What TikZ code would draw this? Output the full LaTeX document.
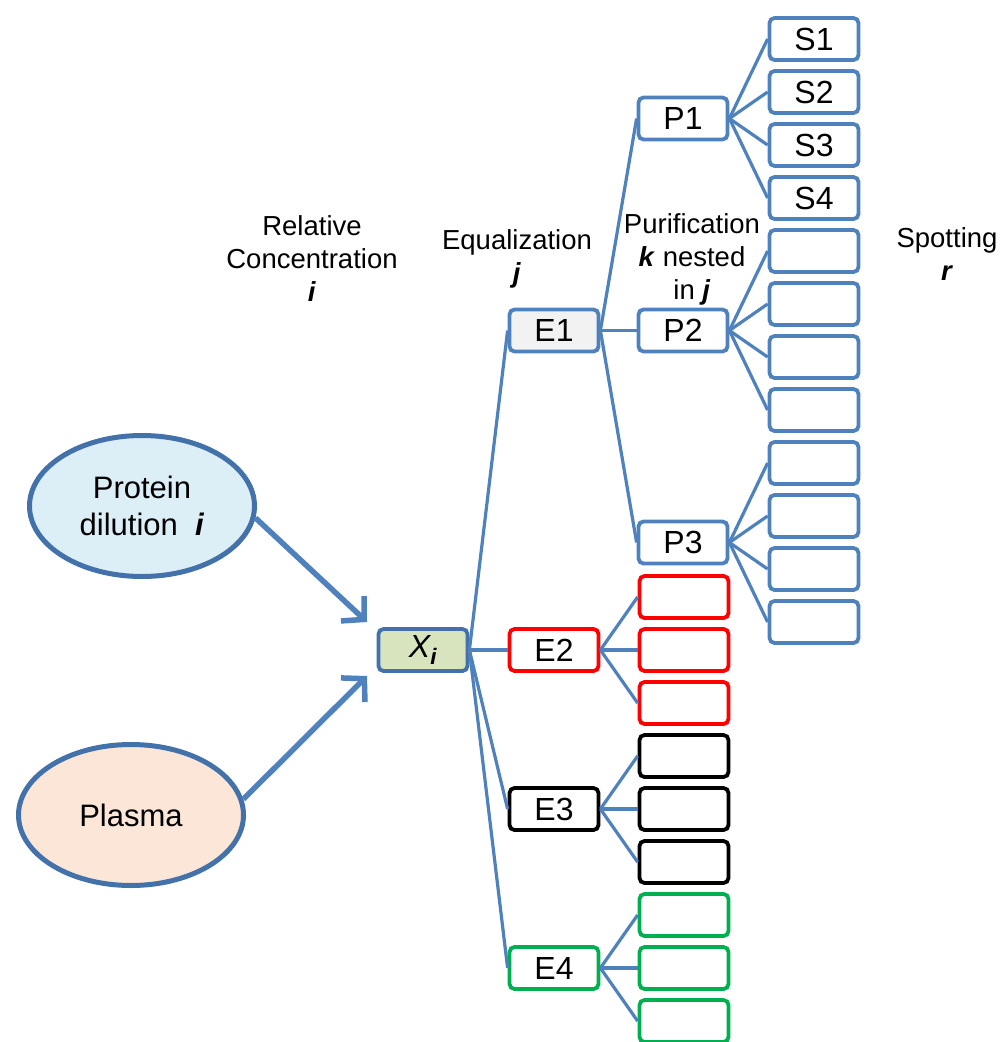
\documentclass[tikz,border=0pt]{standalone}
\usepackage{fontspec}
\setmainfont{Liberation Sans}
\usetikzlibrary{shapes.geometric,arrows.meta}

\definecolor{boxblue}{HTML}{4F81BD}
\definecolor{rimblue}{HTML}{4372AA}
\definecolor{eqgray}{HTML}{F2F2F2}
\definecolor{xgreen}{HTML}{D7E4BD}
\definecolor{protblue}{HTML}{DCEEF6}
\definecolor{plasmapeach}{HTML}{FCE6D8}
\definecolor{spotgreen}{HTML}{00B050}

\begin{document}
\begin{tikzpicture}[x=1pt, y=-1pt,
		box/.style={draw=boxblue, line width=3.8pt, rounded corners=5pt, minimum width=89pt, minimum height=42pt, inner sep=0pt, font=\fontsize{32}{38}\selectfont},
		link/.style={draw=boxblue, line width=3.2pt},
		blob/.style={ellipse, draw=rimblue, line width=5pt, minimum width=225pt, minimum height=141pt, inner sep=0pt, align=center, font=\fontsize{31}{37}\selectfont},
		feed/.style={draw=boxblue, line width=5.5pt, -{Straight Barb[length=16pt, width=34pt]}},
		head/.style={align=center, font=\fontsize{27.5}{33}\selectfont}]
		\useasboundingbox (0, 0) rectangle (1002, 1042);
		\clip (0, 0) rectangle (1002, 1042);

		% column titles
		\node[head] (relhead) at (312, 259) {Relative\\Concentration\\\textbf{\textit{i}}};
		\node[head] (eqhead) at (517, 259) {Equalization\\\textbf{\textit{j}}};
		\node[head] (purhead) at (692, 259) {Purification\\\textbf{\textit{k}} nested\\in \textbf{\textit{j}}};
		\node[head] (spothead) at (947, 254) {Spotting\\\textbf{\textit{r}}};

		% sources
		\node[blob, fill=protblue] (prot) at (142, 506) {Protein\\dilution\ \ \textbf{\textit{i}}};
		\node[blob, fill=plasmapeach] (plasma) at (131, 815) {Plasma};
		\node[box, draw=rimblue, fill=xgreen] (x) at (423, 650) {\textit{X\textsubscript{\textbf{i}}}};
		\coordinate (xin1) at (367, 622);
		\coordinate (xin2) at (367, 676);
		\draw[feed] (prot.-6) -- (xin1);
		\draw[feed] (plasma.8) -- (xin2);

		% equalization
		\node[box, fill=eqgray] (e1) at (554, 330.5) {E1};
		\node[box, draw=red] (e2) at (554, 650) {E2};
		\node[box, draw=black] (e3) at (554, 809) {E3};
		\node[box, draw=spotgreen] (e4) at (554, 968) {E4};
		\foreach \e in {e1, e2, e3, e4}
			\draw[link] (x.east) -- (\e.west);

		% purification of E1
		\foreach \k in {1, 2, 3}
			\node[box] (p\k) at (683, {118.5+212*(\k-1)}) {P\k};
		\foreach \k in {1, 2, 3}
			\draw[link] (e1.east) -- (p\k.west);

		% spotting of P1--P3
		\foreach \n/\t in {1/S1, 2/S2, 3/S3, 4/S4, 5/, 6/, 7/, 8/, 9/, 10/, 11/, 12/}
			\node[box] (s\n) at (814, {39+53*(\n-1)}) {\t};
		\foreach \k in {1, 2, 3}
			\foreach \m in {1, ..., 4} {
				\pgfmathtruncatemacro\n{4*(\k-1)+\m}
				\draw[link] (p\k.east) -- (s\n.west);
			}

		% purification of E2--E4
		\foreach \n/\c in {1/red, 2/red, 3/red, 4/black, 5/black, 6/black, 7/spotgreen, 8/spotgreen, 9/spotgreen}
			\node[box, draw=\c] (c\n) at (684, {597+53*(\n-1)}) {};
		\foreach \e [count=\i from 0] in {e2, e3, e4}
			\foreach \m in {1, 2, 3} {
				\pgfmathtruncatemacro\n{3*\i+\m}
				\draw[link] (\e.east) -- (c\n.west);
			}
	\end{tikzpicture}
\end{document}
